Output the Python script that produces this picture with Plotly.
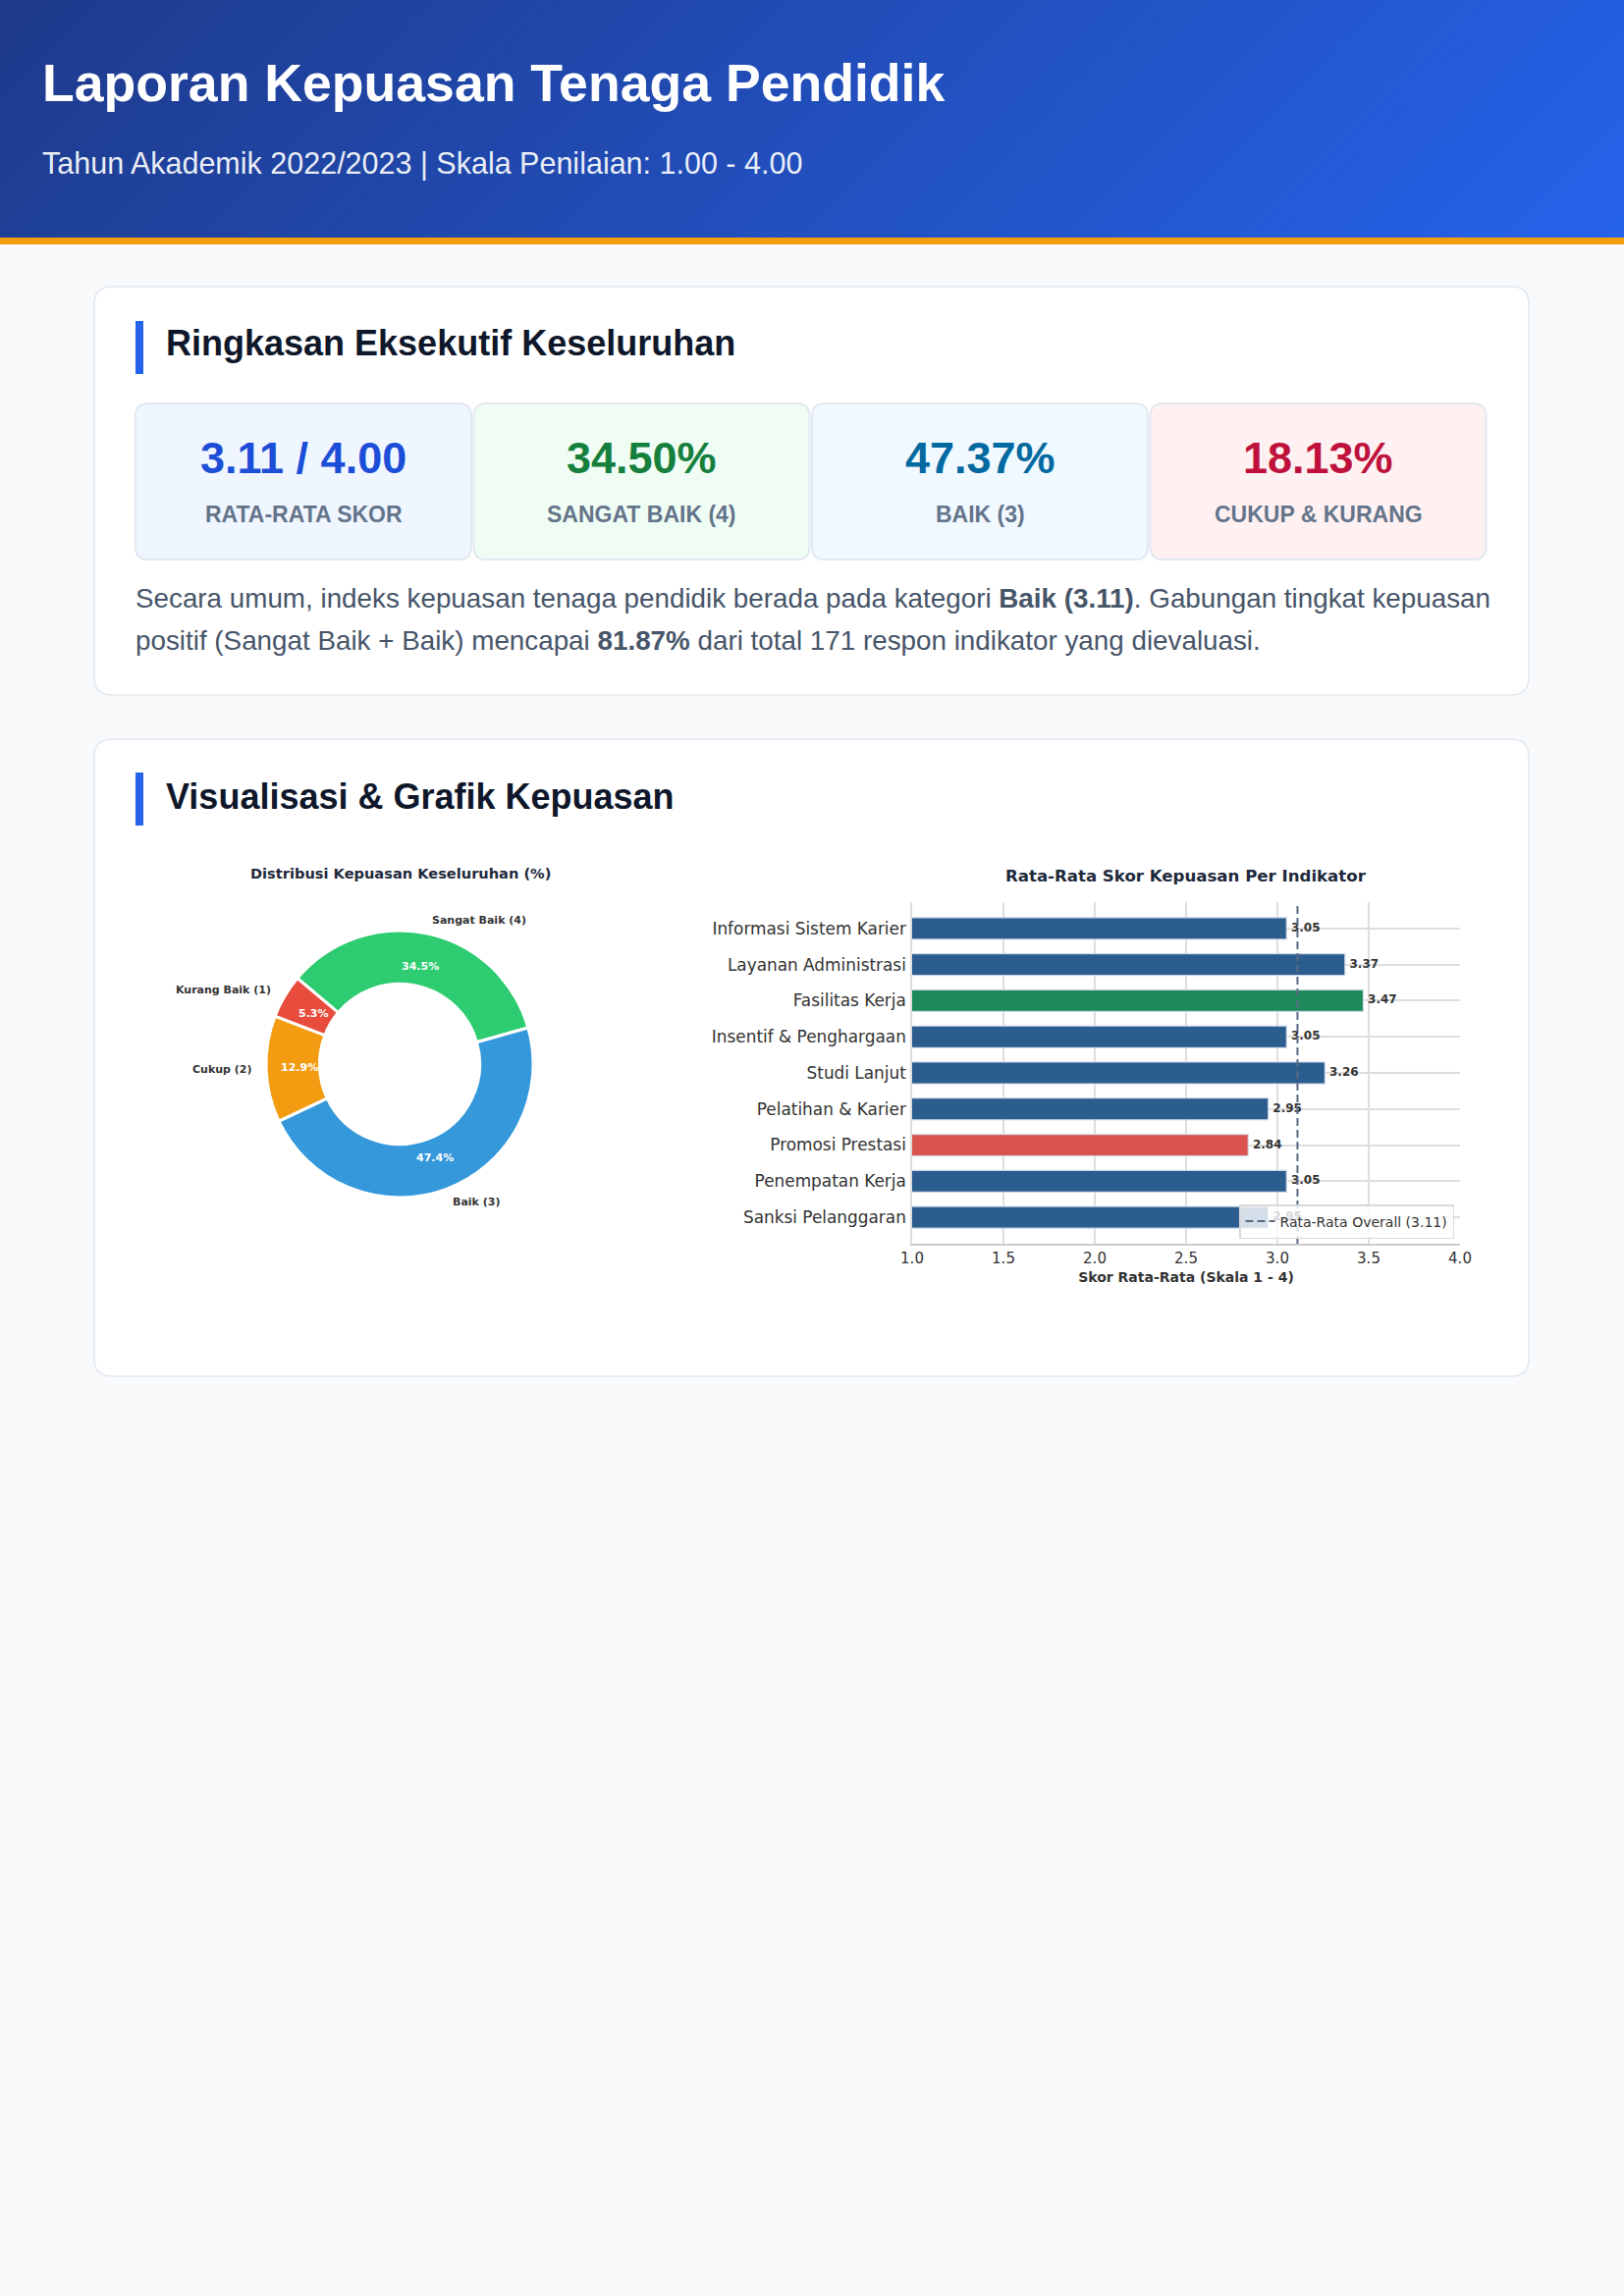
import math

import plotly.graph_objects as go

W, H = 1654, 2339
SANS = "Liberation Sans, Arial, sans-serif"
MPL = "DejaVu Sans, sans-serif"

# summary data
avg_score = 3.11
max_score = 4.00
total_responses = 171

pie_labels = ["Sangat Baik (4)", "Baik (3)", "Cukup (2)", "Kurang Baik (1)"]
pie_values = [34.50, 47.37, 12.87, 5.26]
pie_colors = ["#2ecc71", "#3498db", "#f39c12", "#e74c3c"]

indicators = [
    "Informasi Sistem Karier",
    "Layanan Administrasi",
    "Fasilitas Kerja",
    "Insentif & Penghargaan",
    "Studi Lanjut",
    "Pelatihan & Karier",
    "Promosi Prestasi",
    "Penempatan Kerja",
    "Sanksi Pelanggaran",
]
scores = [3.05, 3.37, 3.47, 3.05, 3.26, 2.95, 2.84, 3.05, 2.95]


def px(x):
    return x / W


def py(y):
    return 1 - y / H


def rrect(x0, y0, x1, y1, r, fill, line="#e2e8f0", lw=1.5):
    p = (
        f"M {px(x0 + r)},{py(y0)} L {px(x1 - r)},{py(y0)} "
        f"Q {px(x1)},{py(y0)} {px(x1)},{py(y0 + r)} L {px(x1)},{py(y1 - r)} "
        f"Q {px(x1)},{py(y1)} {px(x1 - r)},{py(y1)} L {px(x0 + r)},{py(y1)} "
        f"Q {px(x0)},{py(y1)} {px(x0)},{py(y1 - r)} L {px(x0)},{py(y0 + r)} "
        f"Q {px(x0)},{py(y0)} {px(x0 + r)},{py(y0)} Z"
    )
    return dict(type="path", path=p, xref="paper", yref="paper", fillcolor=fill,
                line=dict(color=line, width=lw), layer="below")


def rect(x0, y0, x1, y1, fill):
    return dict(type="rect", x0=px(x0), x1=px(x1), y0=py(y1), y1=py(y0),
                xref="paper", yref="paper", fillcolor=fill, line=dict(width=0), layer="below")


def ann(text, x, y, size, color, family=SANS, anchor="left"):
    return dict(text=text, x=px(x), y=py(y), xref="paper", yref="paper",
                xanchor=anchor, yanchor="middle", showarrow=False,
                font=dict(size=size, color=color, family=family))


shapes = []
annotations = []

# header, 135deg gradient approximated with diagonal strips
hh = 243
c0, c1 = (30, 58, 138), (37, 99, 235)
n = 90
span = W + hh
for i in range(n):
    s0 = span * i / n
    s1 = span * (i + 1) / n + 2
    t = (i + 0.5) / n
    col = "rgb(%d,%d,%d)" % tuple(round(a + (b - a) * t) for a, b in zip(c0, c1))
    path = (f"M {px(s0 - 2)},{py(-2)} L {px(s1 + 2)},{py(-2)} L {px(s1 - hh)},{py(hh)} "
            f"L {px(s0 - hh)},{py(hh)} Z")
    shapes.append(dict(type="path", path=path, xref="paper", yref="paper",
                       fillcolor=col, line=dict(width=0), layer="below"))
shapes.append(rect(0, 242, W, 249, "#f59e0b"))

annotations.append(ann("<b>Laporan Kepuasan Tenaga Pendidik</b>", 41, 84, 53.6, "#ffffff"))
annotations.append(ann("Tahun Akademik 2022/2023 | Skala Penilaian: 1.00 - 4.00",
                       41, 166, 30.5, "rgba(255,255,255,0.92)"))

# card 1: executive summary
shapes.append(rrect(96, 292, 1557, 708, 18, "#ffffff"))
shapes.append(rect(138, 327, 146, 381, "#2563eb"))
annotations.append(ann("<b>Ringkasan Eksekutif Keseluruhan</b>", 167, 350, 36, "#0f172a"))

poor_pct = pie_values[2] + pie_values[3]
good_pct = pie_values[0] + pie_values[1]
stat_values = [f"{avg_score:.2f} / {max_score:.2f}", f"{pie_values[0]:.2f}%",
               f"{pie_values[1]:.2f}%", f"{poor_pct:.2f}%"]
stat_labels = ["RATA-RATA SKOR", "SANGAT BAIK (4)", "BAIK (3)", "CUKUP & KURANG"]
stat_bg = ["#eff6ff", "#f0fdf4", "#f0f9ff", "#fff1f2"]
stat_fg = ["#1d4ed8", "#15803d", "#0369a1", "#be123c"]
for i in range(4):
    x0 = 138 + 344.5 * i
    x1 = x0 + 342
    shapes.append(rrect(x0, 411, x1, 570, 13, stat_bg[i], line="#e2e8f0", lw=2))
    cx = (x0 + x1) / 2
    annotations.append(ann(f"<b>{stat_values[i]}</b>", cx, 466, 45, stat_fg[i], anchor="center"))
    annotations.append(ann(f"<b>{stat_labels[i]}</b>", cx, 524, 23, "#64748b", anchor="center"))

para1 = ("Secara umum, indeks kepuasan tenaga pendidik berada pada kategori "
         f"<b>Baik ({avg_score:.2f})</b>. Gabungan tingkat kepuasan")
para2 = (f"positif (Sangat Baik + Baik) mencapai <b>{good_pct:.2f}%</b> dari total "
         f"{total_responses} respon indikator yang dievaluasi.")
annotations.append(ann(para1, 136, 610, 27.8, "#475569"))
annotations.append(ann(para2, 136, 652, 27.8, "#475569"))

# card 2: charts
shapes.append(rrect(96, 753, 1557, 1402, 18, "#ffffff"))
shapes.append(rect(138, 787, 146, 841, "#2563eb"))
annotations.append(ann("<b>Visualisasi &amp; Grafik Kepuasan</b>", 167, 811, 36, "#0f172a"))

# donut chart
pcx, pcy, pr = 407, 1084, 136
start = 140.0
total = sum(pie_values)
fig = go.Figure()
fig.add_trace(go.Pie(
    values=pie_values,
    labels=pie_labels,
    sort=False,
    direction="clockwise",
    rotation=90 - start,
    hole=0.6,
    marker=dict(colors=pie_colors, line=dict(color="#ffffff", width=3)),
    textinfo="none",
    showlegend=False,
    domain=dict(x=[px(pcx - pr), px(pcx + pr)], y=[py(pcy + pr), py(pcy - pr)]),
    hovertemplate="%{label}: %{value:.2f}%<extra></extra>",
))
annotations.append(ann("<b>Distribusi Kepuasan Keseluruhan (%)</b>", 407.5, 889, 14.6,
                       "#1e293b", family=MPL, anchor="center"))
cum = 0.0
for lab, val in zip(pie_labels, pie_values):
    a1 = start - 360 * cum / total
    cum += val
    a2 = start - 360 * cum / total
    mid = math.radians((a1 + a2) / 2)
    cx, cy = math.cos(mid), math.sin(mid)
    annotations.append(ann(f"<b>{val:.1f}%</b>", pcx + 0.75 * pr * cx, pcy - 0.75 * pr * cy,
                           11, "#ffffff", family=MPL, anchor="center"))
    annotations.append(ann(f"<b>{lab}</b>", pcx + 1.1 * pr * cx, pcy - 1.1 * pr * cy,
                           11, "#333333", family=MPL, anchor="left" if cx > 0 else "right"))

# horizontal bar chart
hi, lo = max(scores), min(scores)
bar_colors = ["#1e8a5a" if s == hi else "#d9534f" if s == lo else "#2c5d8f" for s in scores]
fig.add_trace(go.Bar(
    x=scores,
    y=indicators,
    orientation="h",
    width=0.6,
    marker=dict(color=bar_colors, line=dict(color="rgba(210,222,236,0.9)", width=1.2)),
    showlegend=False,
    hovertemplate="%{y}: %{x:.2f}<extra></extra>",
))
fig.add_trace(go.Scatter(
    x=[s + 0.025 for s in scores],
    y=indicators,
    mode="text",
    text=[f"<b>{s:.2f}</b>" for s in scores],
    textposition="middle right",
    textfont=dict(size=12, color="#333333", family=MPL),
    cliponaxis=False,
    showlegend=False,
    hoverinfo="skip",
))
fig.add_trace(go.Scatter(
    x=[None], y=[None], mode="lines",
    line=dict(color="#5a6a85", width=2, dash="8px,4px"),
    name=f"Rata-Rata Overall ({avg_score:.2f})",
    showlegend=True,
))
shapes.append(dict(type="line", xref="x", yref="y domain", x0=avg_score, x1=avg_score,
                   y0=0, y1=1, line=dict(color="#5a6a85", width=2, dash="8px,4px"),
                   layer="above"))
annotations.append(ann("<b>Rata-Rata Skor Kepuasan Per Indikator</b>", 1208, 892, 16.6,
                       "#1e293b", family=MPL, anchor="center"))

fig.update_layout(
    width=W,
    height=H,
    autosize=False,
    margin=dict(l=0, r=0, t=0, b=0, pad=0, autoexpand=False),
    paper_bgcolor="#f8fafc",
    plot_bgcolor="rgba(0,0,0,0)",
    font=dict(family=MPL, color="#333333"),
    shapes=shapes,
    annotations=annotations,
    legend=dict(
        x=px(1481), y=py(1262), xanchor="right", yanchor="bottom",
        xref="paper", yref="paper",
        bgcolor="rgba(255,255,255,0.8)", bordercolor="#d9d9d9", borderwidth=1.5,
        font=dict(size=14, color="#333333", family=MPL),
        itemwidth=30,
    ),
    xaxis=dict(
        domain=[px(929), px(1487)],
        range=[1.0, 4.0],
        dtick=0.5,
        tick0=1.0,
        tickformat=".1f",
        showgrid=True,
        gridcolor="#dedede",
        gridwidth=1.5,
        showline=True,
        linecolor="#cccccc",
        linewidth=2,
        zeroline=False,
        ticks="",
        automargin=False,
        tickfont=dict(size=15, color="#333333", family=MPL),
        title=dict(text="<b>Skor Rata-Rata (Skala 1 - 4)</b>", standoff=6,
                   font=dict(size=14, color="#333333", family=MPL)),
        fixedrange=True,
    ),
    yaxis=dict(
        domain=[py(1267), py(919)],
        type="category",
        categoryorder="array",
        categoryarray=indicators,
        range=[len(indicators) - 1 + 0.73, -0.73],
        showgrid=True,
        gridcolor="#dedede",
        gridwidth=1.5,
        showline=True,
        linecolor="#dddddd",
        linewidth=1.5,
        ticks="",
        automargin=False,
        ticklabelstandoff=1,
        tickfont=dict(size=16.9, color="#333333", family=MPL),
        fixedrange=True,
    ),
)

fig.write_html(
    "out.html",
    config={"displayModeBar": False},
    post_script="document.body.style.margin='0px';document.body.style.background='#f8fafc';",
)
